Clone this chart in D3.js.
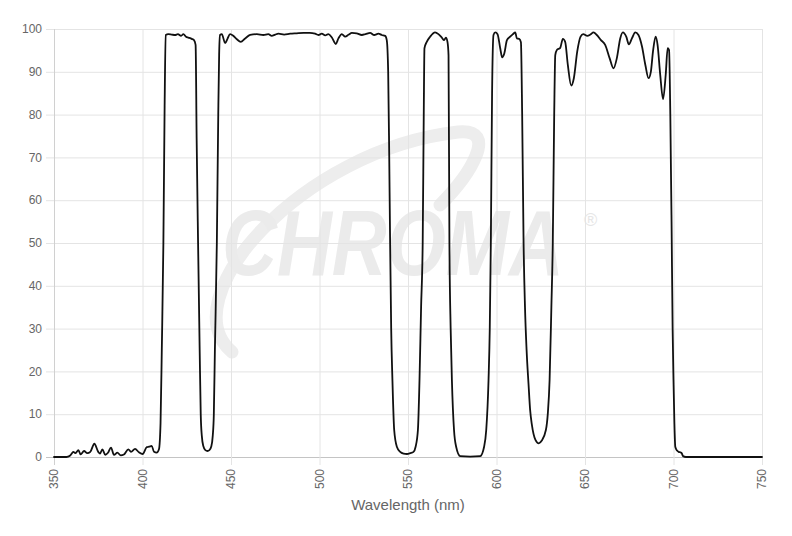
<!DOCTYPE html>
<html>
<head>
<meta charset="utf-8">
<style>
  body { margin: 0; background: #fff; }
  svg { display: block; }
</style>
</head>
<body>
<svg width="792" height="536"></svg>
<script src="https://d3js.org/d3.v7.min.js"></script>
<script>

// transmission spectrum
var wavelength = [
  350, 357, 359, 361, 362, 363.8, 365, 367, 368.8, 370.5, 372.8, 375, 376, 377.3, 379, 380.5,
  382.2, 383.9, 385.8, 387.7, 389.5, 392, 393.5, 395.8, 398, 400.1, 402.4, 403.8, 405.2, 406.5,
  408, 409.3, 410.2, 410.9, 411.8, 412.5, 413.1, 414.6, 416.5, 418.4, 420, 421.8, 423.1, 424.6,
  425.9, 427.8, 429.1, 430, 430.6, 431.4, 432.3, 432.9, 433.5, 434.4, 435.5, 436.7, 437.8, 438.9,
  439.7, 440.3, 440.9, 442, 442.8, 443.3, 443.8, 444.8, 446.7, 448, 449.5, 451.3, 453.3, 455.5,
  458, 460.8, 464.6, 468.3, 471.1, 473, 475, 476.8, 480, 483.4, 487, 491, 494.5, 497.5, 499.4,
  501.3, 503.2, 505, 507, 509.2, 510.7, 512.6, 514.5, 516.5, 518.3, 521, 523.9, 526, 528.6,
  530.9, 533.3, 535.2, 537.1, 538, 538.8, 539.4, 539.9, 540.5, 541.2, 542.2, 543.7, 545.6, 547.5,
  549.4, 551.3, 553.1, 554.3, 555.6, 556.5, 557.4, 558.3, 558.9, 559.3, 560.6, 562.5, 565.3,
  567.2, 569.1, 570.4, 571.4, 572.3, 572.9, 573.4, 574.1, 574.8, 576, 577.2, 579.5, 585.1, 590.8,
  593, 594.2, 595.5, 596.2, 596.8, 597.5, 598.3, 599.3, 600.6, 602.1, 603.2, 604.4, 605.9, 607.7,
  609.3, 610.6, 611.5, 612.8, 613.8, 614.5, 615.3, 616.1, 617, 618.1, 619, 620, 622, 623.9, 625.5,
  627.9, 629, 630, 631, 631.8, 632.6, 633.2, 634.1, 636, 637.5, 638.8, 640.3, 642.2, 643.7,
  645.6, 647.5, 649, 651.3, 653, 654.8, 656.7, 659, 661.4, 663.9, 666.1, 668, 669.9, 671.4,
  673.3, 674.8, 676.5, 678.4, 680.2, 682.2, 684.1, 685.9, 687.2, 688.4, 689.9, 691, 692.5, 694.1,
  695.6, 696.7, 697.5, 698.2, 698.9, 699.5, 700, 700.5, 701, 702, 702.9, 703.8, 704.6, 705.4, 707, 750
];

var transmission = [
  0, 0, 0.3, 1.2, 0.9, 1.6, 0.6, 1.4, 0.9, 1.2, 3.1, 1.2, 0.8, 1.8, 0.5, 1.0,
  2.2, 0.5, 1.0, 0.4, 0.6, 1.8, 1.2, 1.9, 1.1, 0.7, 2.3, 2.4, 2.6, 1.2,
  1.0, 1.8, 8, 25, 50, 82, 98.6, 98.8, 98.7, 98.6, 98.8, 98.4, 98.8, 98.2,
  98.0, 97.7, 97.4, 96.3, 74, 50, 25, 10, 5, 2.5, 1.6, 1.4, 1.6, 2.5,
  5, 10, 25, 50, 80, 94, 98.6, 98.8, 96.7, 97.7, 98.8, 98.4, 97.6, 97.0,
  97.8, 98.6, 98.8, 98.6, 98.8, 98.4, 98.7, 98.9, 98.7, 98.9, 99.0, 99.1, 99.1, 98.9, 98.6,
  98.9, 98.5, 98.8, 98.0, 96.5, 97.8, 98.8, 98.2, 98.7, 99.1, 99.0, 98.6, 98.8, 99.1,
  98.6, 98.9, 98.6, 98.4, 97.4, 90, 70, 50, 30, 18, 6.3, 2.4, 1.2, 0.8,
  0.7, 0.9, 1.2, 2.4, 6.3, 18, 35, 50, 80, 95.5, 97.0, 98.2, 99.2,
  98.8, 98.0, 97.4, 98.0, 97.0, 93.9, 50, 30, 18, 6.3, 2.4, 0.2, 0.1, 0.2,
  2.4, 6.3, 18, 30, 50, 85, 98.6, 99.2, 98.8, 95.5, 93.4, 94.3, 97.4, 98.2,
  98.8, 99.2, 97.8, 97.7, 96.9, 80, 50, 35, 25, 17, 11, 7.5, 4, 3.2, 3.8,
  6.3, 10.2, 18, 35, 50, 80, 93.9, 95.1, 95.6, 97.7, 97.0, 91.6, 86.8, 88.5,
  94.7, 98.2, 98.8, 98.4, 98.7, 99.2, 98.6, 97.4, 96.3, 93.2, 90.8, 93.2, 97.8, 99.2,
  98.2, 96.4, 97.8, 99.2, 98.6, 95.9, 91.6, 88.5, 90, 94.7, 98.2, 96.3, 89.3, 83.6,
  89.3, 95.5, 95.1, 80, 55, 30, 18, 8, 2.4, 1.5, 1.2, 1.1, 0.9, 0.2, 0, 0
];

var xTicks = [350, 400, 450, 500, 550, 600, 650, 700, 750];
var yTicks = [0, 10, 20, 30, 40, 50, 60, 70, 80, 90, 100];

var data = wavelength.map(function(w, i) { return {w: w, t: transmission[i]}; });

var svg = d3.select("svg"),
    margin = {top: 29, right: 30, bottom: 79, left: 54},
    width = +svg.attr("width") - margin.left - margin.right,
    height = +svg.attr("height") - margin.top - margin.bottom;

var font = "'Liberation Sans', Arial, Helvetica, sans-serif";

// faint logo watermark behind the plot
var wm = svg.append("g").attr("pointer-events", "none");
wm.append("path")
    .attr("d", "M232,352 C170,300 300,150 458,132 C500,128 470,175 440,205")
    .attr("fill", "none")
    .attr("stroke", "#ededed")
    .attr("stroke-width", 13)
    .attr("stroke-linecap", "round");
wm.append("text")
    .attr("transform", "translate(222,275) scale(1,1.22)")
    .attr("font-family", font)
    .attr("font-weight", "bold")
    .attr("font-style", "italic")
    .attr("font-size", 76)
    .attr("fill", "#ebebeb")
    .text("CHROMA");
wm.append("text")
    .attr("x", 584)
    .attr("y", 226)
    .attr("font-family", font)
    .attr("font-size", 18)
    .attr("fill", "#e6e6e6")
    .text("\u00ae");

var g = svg.append("g").attr("transform", "translate(" + margin.left + "," + margin.top + ")");

var x = d3.scaleLinear().domain([350, 750]).range([0, width]);
var y = d3.scaleLinear().domain([0, 100]).range([height, 0]);

// grid + tick marks
g.append("g")
  .selectAll("line")
  .data(yTicks)
  .enter().append("line")
    .attr("x1", -8)
    .attr("x2", width)
    .attr("y1", function(d) { return y(d) + 0.5; })
    .attr("y2", function(d) { return y(d) + 0.5; })
    .attr("stroke", function(d) { return d == 0 ? "#c4c4c4" : "#e4e4e4"; })
    .attr("stroke-width", 1);

g.append("g")
  .selectAll("line")
  .data(xTicks)
  .enter().append("line")
    .attr("x1", function(d) { return x(d) + 0.5; })
    .attr("x2", function(d) { return x(d) + 0.5; })
    .attr("y1", 0)
    .attr("y2", height + 8)
    .attr("stroke", function(d) { return d == 350 ? "#d0d0d0" : "#e4e4e4"; })
    .attr("stroke-width", 1);

// y labels
g.append("g")
  .selectAll("text")
  .data(yTicks)
  .enter().append("text")
    .attr("x", -12)
    .attr("y", function(d) { return y(d); })
    .attr("dy", "0.35em")
    .attr("text-anchor", "end")
    .attr("font-family", font)
    .attr("font-size", 12)
    .attr("fill", "#666")
    .text(function(d) { return d; });

// x labels, rotated
g.append("g")
  .selectAll("text")
  .data(xTicks)
  .enter().append("text")
    .attr("transform", function(d) { return "translate(" + x(d) + "," + (height + 12) + ") rotate(-90)"; })
    .attr("dy", "0.35em")
    .attr("text-anchor", "end")
    .attr("font-family", font)
    .attr("font-size", 12)
    .attr("fill", "#666")
    .text(function(d) { return d; });

g.append("text")
    .attr("x", width / 2)
    .attr("y", height + 53)
    .attr("text-anchor", "middle")
    .attr("font-family", font)
    .attr("font-size", 15)
    .attr("fill", "#666")
    .text("Wavelength (nm)");

var line = d3.line()
    .x(function(d) { return x(d.w); })
    .y(function(d) { return y(d.t); })
    .curve(d3.curveMonotoneX);

g.append("path")
    .datum(data)
    .attr("fill", "none")
    .attr("stroke", "#111")
    .attr("stroke-width", 1.8)
    .attr("stroke-linejoin", "round")
    .attr("stroke-linecap", "round")
    .attr("d", line);

</script>
</body>
</html>
